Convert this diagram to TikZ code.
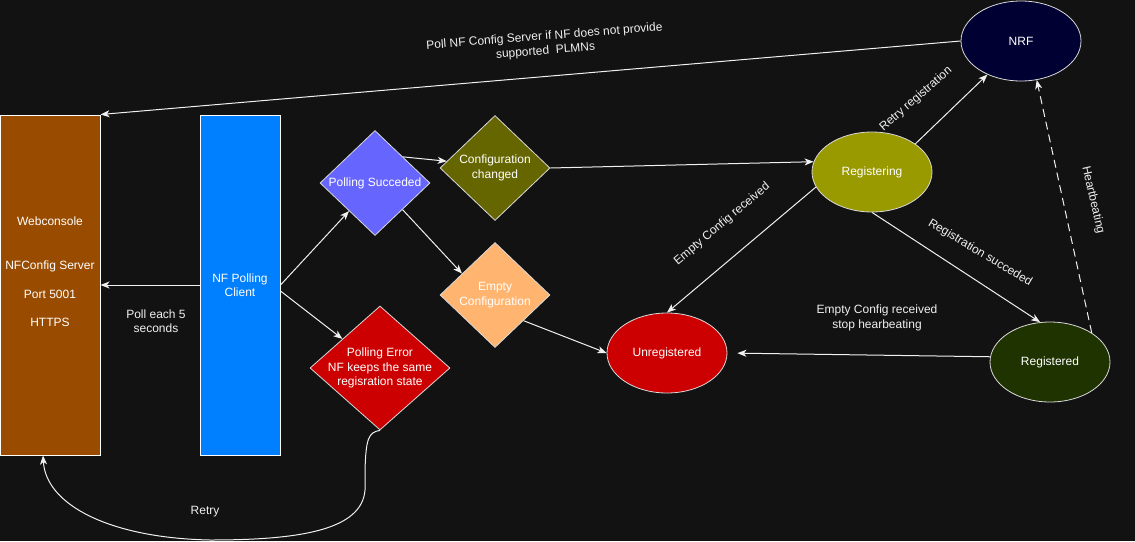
\documentclass[tikz,border=0pt]{standalone}
\usepackage{fontspec}
\setmainfont{Liberation Sans}
\usepackage{tikz}
\usetikzlibrary{shapes,arrows.meta,positioning,calc}
\definecolor{darkbg}{HTML}{121212}
\definecolor{webbrown}{HTML}{994C00}
\definecolor{clientblue}{HTML}{007FFF}
\definecolor{succviolet}{HTML}{6666FF}
\definecolor{chgolive}{HTML}{666600}
\definecolor{emptyorange}{HTML}{FFB570}
\definecolor{errred}{HTML}{CC0000}
\definecolor{regyellow}{HTML}{999900}
\definecolor{nrfnavy}{HTML}{000033}
\definecolor{regdgreen}{HTML}{1F3300}
\definecolor{linegray}{HTML}{F0F0F0}

\tikzset{
  txtfont/.style={font=\fontsize{12}{14.5}\selectfont},
  box/.style={rectangle, draw=white, line width=1pt, minimum height=340pt, inner sep=0pt,
    text=white, align=center, txtfont},
  decision/.style={diamond, draw=white!85!black, line width=0.8pt, minimum width=110pt,
    minimum height=105pt, inner sep=0pt},
  state/.style={ellipse, draw=white!85!black, line width=0.8pt, minimum width=120pt,
    minimum height=80pt, inner sep=0pt, text=white, txtfont},
  lbl/.style={text=linegray, align=center, inner sep=0pt, txtfont},
  conn/.style={->, draw=linegray, line width=1pt}
}

\begin{document}
\begin{tikzpicture}[x=1pt, y=-1pt, >={Stealth[length=9pt,width=7pt,inset=2.5pt]}]
    \fill[darkbg] (0,0) rectangle (1135,541);
    \useasboundingbox (0,0) rectangle (1135,541);

    % server and client
    \node[box, fill=webbrown, minimum width=100pt] (web) at (50,285) {};
    \node[lbl, text=white] (webtxt) at (50,272) {Webconsole\\[29.6pt]NFConfig Server\\[14.6pt]Port 5001\\[13.6pt]HTTPS};
    \node[box, fill=clientblue, minimum width=80pt] (client) at (240,285) {NF Polling\\Client};

    % polling results
    \node[decision, fill=succviolet, label={[lbl, text=white]center:Polling Succeded}] (succ) at (375,183) {};
    \node[decision, fill=chgolive, label={[lbl, text=white]center:Configuration\\changed}] (chg) at (495,168) {};
    \node[decision, fill=emptyorange, label={[lbl, text=white]center:Empty\\Configuration}] (empty) at (495,295) {};
    \node[decision, fill=errred, minimum width=140pt, minimum height=124pt,
      label={[lbl, text=white]center:Polling Error\\NF keeps the same\\regisration state}] (perr) at (380,368) {};

    % registration states
    \node[state, fill=errred] (unreg) at (667,353) {Unregistered};
    \node[state, fill=regyellow] (regg) at (872,172) {Registering};
    \node[state, fill=nrfnavy] (nrf) at (1021,41) {NRF};
    \node[state, fill=regdgreen] (regd) at (1050,362) {Registered};

    % connectors
    \draw[conn] (nrf.west) -- (web.north east);
    \draw[conn] (client.west) -- (web.east);
    \draw[conn] (client.east) -- (succ);
    \draw[conn] ($(client.east)+(0,6)$) -- (perr);
    \draw[conn] (succ.43) -- (chg.172);
    \draw[conn] (succ.-44) -- (empty.147);
    \draw[conn] (chg.east) -- (regg.170);
    \draw[conn] (empty.-42) -- (unreg.west);
    \draw[conn] (regg.195) -- (unreg.north);
    \draw[conn] (regg.33) -- (nrf.225);
    \draw[conn] (regg.south) -- (regd.104);
    \draw[conn, shorten >=10pt] (regd.175) -- (unreg.east);
    \draw[conn, dash pattern=on 8pt off 5pt] (regd.35) -- (nrf.-68);

    \coordinate (retryend) at ($(web.south)+(-7,0)$);
    \draw[conn] (perr.south) .. controls (368,432) and (366,440) .. (365,470) -- (365,490)
      .. controls (362,530) and (300,540) .. (210,540) .. controls (110,538) and (46,505) .. (retryend);

    % edge labels
    \node[lbl, rotate=4.5] (lblnrf) at (545,44) {Poll NF Config Server if NF does not provide\\supported\ \ PLMNs};
    \node[lbl] (lblpoll) at (156,321) {Poll each 5\\seconds};
    \node[lbl] (lblretry) at (205,512) {Retry};
    \node[lbl, rotate=40] (lblempty) at (722,224) {Empty Config received};
    \node[lbl, rotate=41] (lblretryreg) at (916,99) {Retry registration};
    \node[lbl, rotate=-31] (lblsucc) at (980,253) {Registration succeded};
    \node[lbl] (lblstop) at (877,318) {Empty Config received\\stop hearbeating};
    \node[lbl, rotate=-77] (lblheart) at (1093,200) {Heartbeating};
\end{tikzpicture}
\end{document}
